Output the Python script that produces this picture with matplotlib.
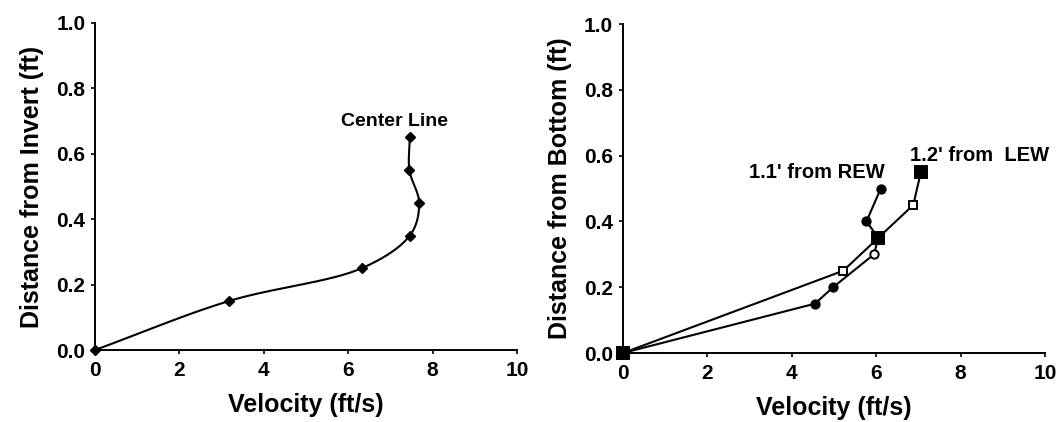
import numpy as np
import matplotlib
matplotlib.use("Agg")
import matplotlib.pyplot as plt

plt.rcParams['font.family'] = ['Liberation Sans', 'DejaVu Sans']
plt.rcParams['font.weight'] = 'bold'

# left panel: center line profile
cl_vel = [0.0, 3.18, 6.32, 7.46, 7.68, 7.45, 7.46]
cl_depth = [0.0, 0.15, 0.25, 0.35, 0.45, 0.55, 0.65]

# right panel: two verticals
rew_vel = [0.0, 4.55, 4.98, 5.95, 6.05, 5.77, 6.11]
rew_depth = [0.0, 0.15, 0.20, 0.30, 0.35, 0.40, 0.50]
lew_vel = [0.0, 5.22, 6.05, 6.88, 7.06]
lew_depth = [0.0, 0.25, 0.35, 0.45, 0.55]

xticks = [0, 2, 4, 6, 8, 10]
yticks = [0.0, 0.2, 0.4, 0.6, 0.8, 1.0]

# marker fill per point (style only)
rew_filled = [True, True, True, False, True, True, True]
lew_filled = [True, False, True, False, True]


def smooth(x, y, n=30):
    # centripetal catmull-rom, done in axis-normalised units
    P = np.column_stack([np.asarray(x, float) / 10.0, np.asarray(y, float)])
    P = np.vstack([2*P[0]-P[1], P, 2*P[-1]-P[-2]])
    out = []
    for i in range(1, len(P)-2):
        p0, p1, p2, p3 = P[i-1], P[i], P[i+1], P[i+2]
        t0 = 0.0
        t1 = t0 + np.linalg.norm(p1-p0)**0.5
        t2 = t1 + np.linalg.norm(p2-p1)**0.5
        t3 = t2 + np.linalg.norm(p3-p2)**0.5
        t = np.linspace(t1, t2, n)[:, None]
        a1 = (t1-t)/(t1-t0)*p0 + (t-t0)/(t1-t0)*p1
        a2 = (t2-t)/(t2-t1)*p1 + (t-t1)/(t2-t1)*p2
        a3 = (t3-t)/(t3-t2)*p2 + (t-t2)/(t3-t2)*p3
        b1 = (t2-t)/(t2-t0)*a1 + (t-t0)/(t2-t0)*a2
        b2 = (t3-t)/(t3-t1)*a2 + (t-t1)/(t3-t1)*a3
        c = (t2-t)/(t2-t1)*b1 + (t-t1)/(t2-t1)*b2
        out.append(c)
    out = np.vstack(out)
    return out[:, 0] * 10.0, out[:, 1]


def style(ax, ylabel):
    ax.set_xlim(0, 10)
    ax.set_ylim(0, 1.0)
    ax.set_xticks(xticks)
    ax.set_yticks(yticks)
    ax.set_xticklabels([str(v) for v in xticks])
    ax.set_yticklabels([f"{v:.1f}" for v in yticks])
    ax.spines['top'].set_visible(False)
    ax.spines['right'].set_visible(False)
    for s in ('left', 'bottom'):
        ax.spines[s].set_linewidth(1.4)
    ax.tick_params(direction='out', length=3, width=1.2, labelsize=15, pad=4)
    ax.tick_params(axis='x', pad=5)
    ax.set_xlabel("Velocity (ft/s)", fontsize=18, fontweight='bold', labelpad=9)
    ax.set_ylabel(ylabel, fontsize=18, fontweight='bold', labelpad=9)


fig = plt.figure(figsize=(10.64, 4.22), dpi=100)
ax1 = fig.add_axes([0.0893, 0.1706, 0.3966, 0.775])
ax2 = fig.add_axes([0.5855, 0.1635, 0.3966, 0.7796])

sx, sy = smooth(cl_vel, cl_depth)
ax1.plot(sx, sy, color='black', lw=1.5, clip_on=False)
ax1.plot(cl_vel, cl_depth, linestyle='none', marker='D', ms=5, color='black', clip_on=False)
ax1.text(7.1, 0.70, "Center Line", ha='center', va='center', fontsize=14, fontweight='bold')
style(ax1, "Distance from Invert (ft)")

# right-hand profiles are drawn as plain segments
ax2.plot(rew_vel, rew_depth, color='black', lw=1.5, clip_on=False)
ax2.plot(lew_vel, lew_depth, color='black', lw=1.5, clip_on=False)
for v, d, f in zip(rew_vel, rew_depth, rew_filled):
    ax2.plot(v, d, marker='o', ms=6, color='black', mfc='black' if f else 'white',
             mew=1.4, clip_on=False, zorder=3)
for v, d, f in zip(lew_vel, lew_depth, lew_filled):
    ax2.plot(v, d, marker='s', ms=8 if f else 6, color='black', mfc='black' if f else 'white',
             mew=1.4, clip_on=False, zorder=3)
ax2.text(6.2, 0.55, "1.1' from REW", ha='right', va='center', fontsize=14.5, fontweight='bold')
ax2.text(6.8, 0.60, "1.2' from  LEW", ha='left', va='center', fontsize=14.5, fontweight='bold')
style(ax2, "Distance from Bottom (ft)")

fig.savefig("out.png", dpi=100)
